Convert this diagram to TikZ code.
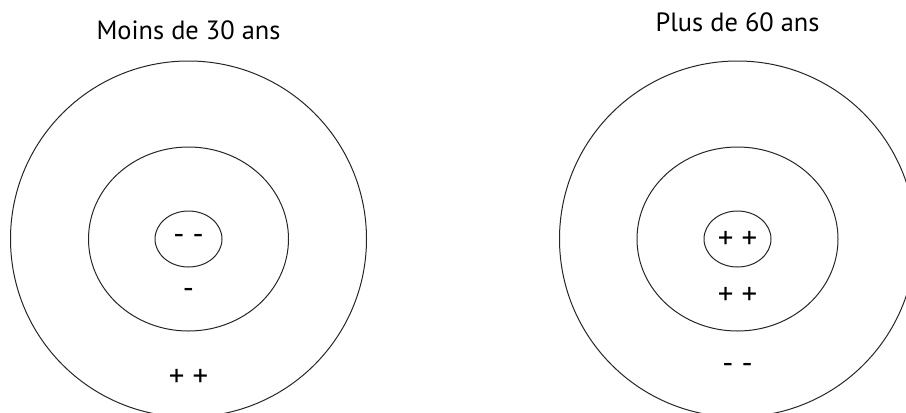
\documentclass[tikz,border=0pt]{standalone}
\usepackage{fontspec}
\setmainfont{PT Sans}
\usetikzlibrary{positioning}

\tikzset{
  ring/.style={draw=black!85,line width=1bp},
  sign/.style={font=\fontsize{31}{34}\selectfont,inner sep=0pt},
  heading/.style={font=\fontsize{26.5}{30}\selectfont,inner sep=0pt,anchor=base}
}

\begin{document}
\begin{tikzpicture}[x=1bp,y=-1bp]
  \useasboundingbox (0,0) rectangle (906,412);
  \clip (0,0) rectangle (906,412);

  % Left target
  \draw[ring] (188.5,239) circle [radius=178];
  \draw[ring] (188.5,239) ellipse [x radius=100,y radius=92];
  \draw[ring] (188.5,239) ellipse [x radius=33.5,y radius=28];
  \node[heading] (young) at (188.5,39.5) {Moins de 30 ans};
  \node[sign] (youngcore) at (188.5,239) {- -};
  \node[sign] (youngmid) at (188.5,293) {-};
  \node[sign] (youngout) at (188.5,378) {+ +};

  % Right target
  \draw[ring] (737.5,239) circle [radius=178];
  \draw[ring] (737.5,239) ellipse [x radius=100.5,y radius=92];
  \draw[ring] (737.5,239) ellipse [x radius=33.5,y radius=28];
  \node[heading] (old) at (737.5,31.5) {Plus de 60 ans};
  \node[sign] (oldcore) at (737.5,240) {+ +};
  \node[sign] (oldmid) at (737.5,296) {+ +};
  \node[sign] (oldout) at (737.5,368) {- -};
\end{tikzpicture}
\end{document}
